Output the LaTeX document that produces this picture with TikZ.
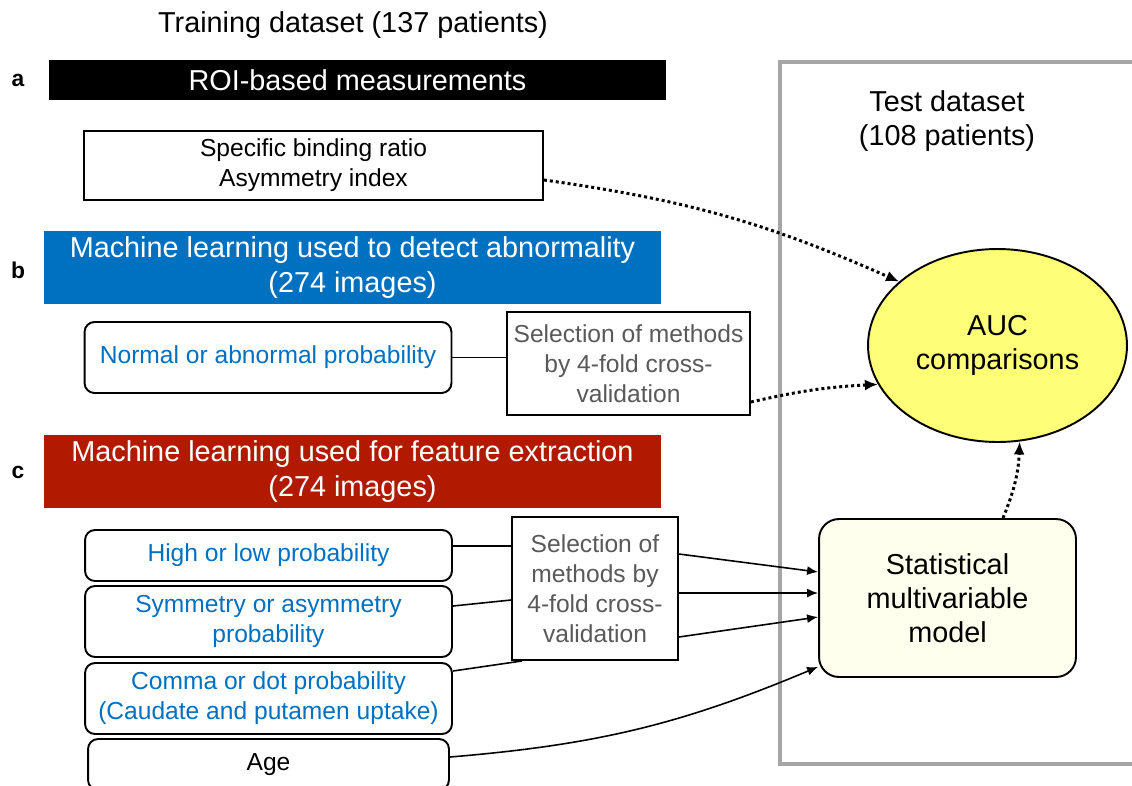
\documentclass[tikz,border=0pt]{standalone}
\usepackage{fontspec}
\setmainfont{Liberation Sans}
\usetikzlibrary{arrows.meta, shapes.geometric, positioning}
\definecolor{myblue}{HTML}{0070C0}
\definecolor{myred}{HTML}{B21A00}
\definecolor{mygray}{HTML}{595959}
\definecolor{framegray}{HTML}{A6A6A6}
\definecolor{myyellow}{HTML}{FFFF77}
\definecolor{mycream}{HTML}{FFFFEE}
\newcommand{\bigsize}{\fontsize{16.4}{19.5}\selectfont}
\newcommand{\smallsize}{\fontsize{14}{17}\selectfont}
\tikzset{
	headnode/.style={
			rectangle,
			inner sep=0pt,
			text=white,
			align=center,
			minimum width=12.34cm,
			font=\bigsize
		},
	plainnode/.style={
			rectangle,
			draw=black,
			line width=1.1pt,
			fill=white,
			inner sep=0pt,
			align=center,
			font=\smallsize
		},
	itemnode/.style={
			plainnode,
			rounded corners=0.2cm,
			minimum width=7.34cm,
			text=myblue
		},
	selnode/.style={
			plainnode,
			text=mygray
		},
	letternode/.style={font=\fontsize{13}{15}\selectfont\bfseries}
}
\tikzset{
	joinline/.style={line width=0.9pt},
	solidarrow/.style={-{Latex[length=2.2mm,width=1.8mm]}, line width=0.9pt},
	dotarrow/.style={-{Latex[length=2.6mm,width=2.2mm]}, line width=1.7pt, dash pattern=on 1.7pt off 1.7pt}
}
\begin{document}
\begin{tikzpicture}[x=0.02cm, y=-0.02cm]
  \useasboundingbox (0,0) rectangle (1132,785);

  % test dataset frame
  \draw[framegray, line width=1.8pt] (780,62) rectangle (1145,764);

  \node[font=\bigsize] (train) at (353,25) {Training dataset (137 patients)};
  \node[font=\bigsize, align=center] (test) at (947,121) {Test dataset\\(108 patients)};

  \node[letternode] (la) at (18,80) {a};
  \node[letternode] (lb) at (18,270) {b};
  \node[letternode] (lc) at (18,472) {c};

  \node[headnode, fill=black, minimum height=0.8cm] (roi) at (357.5,80) {ROI-based measurements};
  \node[headnode, fill=myblue, minimum height=1.46cm] (mlb) at (352.5,267.5) {Machine learning used to detect abnormality\\(274 images)};
  \node[headnode, fill=myred, minimum height=1.46cm] (mlc) at (352.5,471.5) {Machine learning used for feature extraction\\(274 images)};

  \node[plainnode, minimum width=9.18cm, minimum height=1.38cm] (sbr) at (313.5,165.5) {Specific binding ratio\\Asymmetry index};

  \node[itemnode, minimum height=1.42cm] (nap) at (268,357.5) {Normal or abnormal probability};
  \node[itemnode, minimum height=1.02cm] (hlp) at (268.5,555.5) {High or low probability};
  \node[itemnode, minimum height=1.42cm] (sap) at (268.5,621.5) {Symmetry or asymmetry\\probability};
  \node[itemnode, minimum height=1.42cm] (cdp) at (268.5,698.5) {Comma or dot probability\\(Caudate and putamen uptake)};
  \node[itemnode, text=black, minimum width=7.22cm, minimum height=1.02cm] (age) at (268.5,764.5) {Age};

  \node[selnode, minimum width=4.86cm, minimum height=2.06cm] (sel1) at (628.5,363.5) {Selection of methods\\by 4-fold cross-\\validation};
  \node[selnode, minimum width=3.32cm, minimum height=2.86cm] (sel2) at (595,588.5) {Selection of\\methods by\\4-fold cross-\\validation};

  \node[plainnode, fill=mycream, rounded corners=0.4cm, font=\bigsize, minimum width=5.14cm, minimum height=3.16cm] (stat) at (947.5,598) {Statistical\\multivariable\\model};
  \node[ellipse, draw=black, line width=1.1pt, fill=myyellow, inner sep=0pt, align=center, font=\bigsize, minimum width=5.18cm, minimum height=3.86cm] (auc) at (997.5,345.5) {AUC\\comparisons};

  % connectors
  \draw[joinline] (nap.east) -- (nap.east -| sel1.west);
  \draw[joinline] ([yshift=0.19cm]hlp.east) -- ([yshift=0.19cm]hlp.east -| sel2.west);
  \draw[joinline] ([yshift=0.31cm]sap.east) -- ([yshift=-0.23cm]sel2.west);
  \draw[joinline] ([yshift=0.55cm]cdp.east) -- ([xshift=0.22cm]sel2.south west);

  \draw[solidarrow] ([yshift=0.69cm]sel2.east) -- ([yshift=0.52cm]stat.west);
  \draw[solidarrow] ([yshift=-0.09cm]sel2.east) -- ([yshift=0.1cm]stat.west);
  \draw[solidarrow] ([yshift=-0.97cm]sel2.east) -- ([yshift=-0.38cm]stat.west);
  \draw[solidarrow] ([yshift=0.15cm]age.east) to[bend right=9] (stat.208);

  \draw[dotarrow] ([yshift=-0.29cm]sbr.east) to[bend left=8] (auc.147);
  \draw[dotarrow] ([yshift=-0.77cm]sel1.east) to[bend left=5] (auc.198);
  \draw[dotarrow] ([xshift=1.11cm]stat.north) to[bend right=10] (auc.283);

\end{tikzpicture}
\end{document}
